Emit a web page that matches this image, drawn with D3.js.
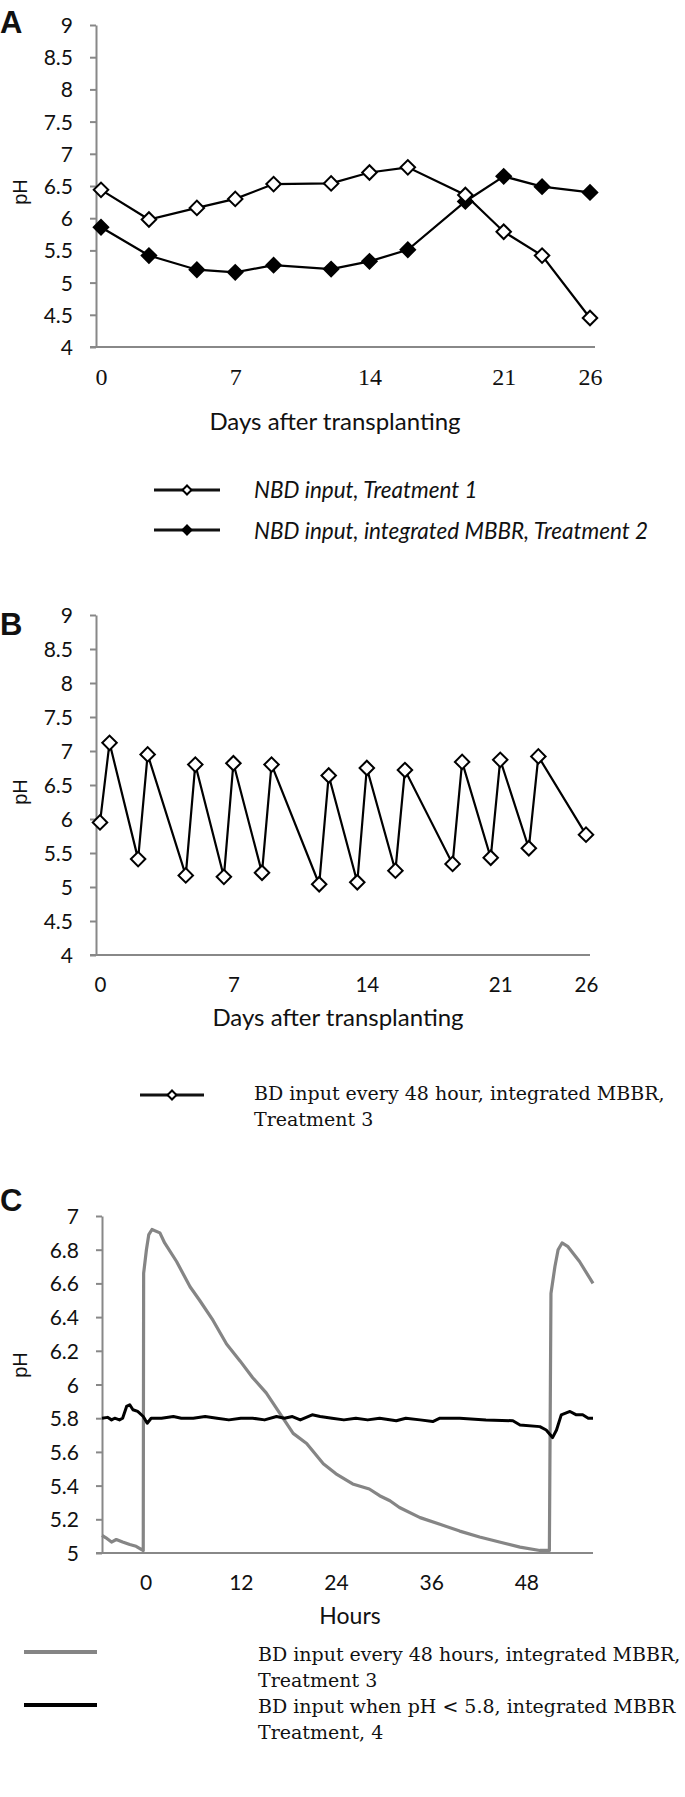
<!DOCTYPE html>
<html>
<head>
<meta charset="utf-8">
<script src="https://cdnjs.cloudflare.com/ajax/libs/d3/7.8.5/d3.min.js"></script>
<style>
	body { margin: 0; background: #fff; }
	svg { display: block; }
</style>
</head>
<body>
<div id="chart"></div>
<script>
// panel A: pH measured on days after transplanting
const daysA = [0, 2.5, 5, 7, 9, 12, 14, 16, 19, 21, 23, 25.5]
const phTreatment1 = [6.44, 5.98, 6.16, 6.3, 6.53, 6.54, 6.71, 6.79, 6.36, 5.79, 5.42, 4.45]
const phTreatment2 = [5.86, 5.42, 5.2, 5.16, 5.27, 5.21, 5.33, 5.51, 6.26, 6.65, 6.49, 6.4]

// panel B: treatment 3, BD input every 48 h
const daysB = [0, 0.5, 2, 2.5, 4.5, 5, 6.5, 7, 8.5, 9, 11.5, 12, 13.5, 14, 15.5, 16, 18.5, 19, 20.5, 21, 22.5, 23, 25.5]
const phTreatment3 = [5.95, 7.12, 5.41, 6.95, 5.17, 6.8, 5.15, 6.82, 5.21, 6.8, 5.04, 6.64, 5.07, 6.75, 5.24, 6.72, 5.34, 6.84, 5.43, 6.87, 5.57, 6.92, 5.77]

// shared tick labels for the day axes (last tick sits on the last sample)
const dayTicks = [0, 7, 14, 21, 25.5]
const dayTickLabels = ['0', '7', '14', '21', '26']
const phTicksAB = [4, 4.5, 5, 5.5, 6, 6.5, 7, 7.5, 8, 8.5, 9]

// panel C: continuous logging in hours
const hoursT3 = [-5.5, -5.0, -4.3, -3.7, -2.9, -2.0, -1.2, -0.5, -0.3, -0.25, 0.1, 0.4, 0.8, 1.8, 2.4, 3.9, 5.6, 6.8, 8.5, 10.2, 11.9, 13.5, 15.2, 16.9, 18.6, 20.3, 22.4, 24.0, 26.1, 28.2, 29.5, 30.8, 32.0, 34.6, 37.1, 39.6, 42.1, 44.6, 47.2, 49.7, 50.9, 51.1, 51.6, 52.0, 52.5, 53.2, 54.7, 56.4]
const phT3 = [5.105, 5.09, 5.065, 5.08, 5.065, 5.05, 5.04, 5.02, 5.015, 6.66, 6.8, 6.89, 6.92, 6.9, 6.84, 6.73, 6.58, 6.5, 6.38, 6.24, 6.14, 6.04, 5.95, 5.83, 5.71, 5.65, 5.53, 5.47, 5.41, 5.38, 5.34, 5.31, 5.27, 5.21, 5.17, 5.13, 5.095, 5.065, 5.035, 5.015, 5.015, 6.54, 6.7, 6.8, 6.84, 6.82, 6.73, 6.6]
const hoursT4 = [-5.5, -4.8, -4.3, -3.9, -3.3, -2.9, -2.4, -2.0, -1.6, -1.0, -0.3, 0.2, 0.7, 2.0, 3.5, 4.5, 6.0, 7.5, 9.0, 10.5, 12.0, 13.5, 15.0, 16.5, 17.5, 18.5, 19.5, 21.0, 22.0, 23.5, 25.0, 26.5, 28.0, 29.5, 31.6, 32.8, 34.6, 36.2, 37.1, 39.6, 42.9, 46.3, 47.2, 49.7, 50.5, 51.3, 51.8, 52.4, 53.5, 54.3, 55.1, 55.8, 56.4]
const phT4 = [5.8, 5.805, 5.79, 5.8, 5.79, 5.8, 5.87, 5.88, 5.85, 5.84, 5.81, 5.77, 5.8, 5.8, 5.81, 5.8, 5.8, 5.81, 5.8, 5.79, 5.8, 5.8, 5.79, 5.81, 5.8, 5.81, 5.79, 5.82, 5.81, 5.8, 5.79, 5.8, 5.79, 5.8, 5.785, 5.8, 5.79, 5.78, 5.8, 5.8, 5.79, 5.785, 5.76, 5.75, 5.73, 5.685, 5.73, 5.82, 5.84, 5.82, 5.82, 5.8, 5.8]
const hourTicks = [0, 12, 24, 36, 48]
const phTicksC = [5, 5.2, 5.4, 5.6, 5.8, 6, 6.2, 6.4, 6.6, 6.8, 7]

const axisGrey = '#888888'
const seriesGrey = '#858585'
const sans = 'Lato, "Open Sans", sans-serif'
const serif = '"Liberation Serif", serif'
const legendSerif = '"DejaVu Serif", serif'
const arial = '"Liberation Sans", Arial, sans-serif'

const svg = d3
	.select('#chart')
	.append('svg')
	.attr('width', 685)
	.attr('height', 1797)

svg.append('rect').attr('width', 685).attr('height', 1797).attr('fill', '#fff')

const diamond = size => d3.symbol(d3.symbolSquare, size)

function drawYAxis(y, ticks, left) {
	const g = svg
		.append('g')
		.attr('transform', `translate(${left},0)`)
		.call(
			d3
				.axisLeft(y)
				.tickValues(ticks)
				.tickSize(6)
				.tickSizeOuter(0)
				.tickPadding(17)
				.tickFormat(d3.format(''))
		)
	g.attr('font-family', sans).attr('font-size', 21)
	g.selectAll('path, line').attr('stroke', axisGrey).attr('stroke-width', 2)
	g.selectAll('text').attr('fill', '#111').attr('dy', '0.36em')
}

function drawXAxis(x, ticks, labels, bottom, left, right, font, size, pad) {
	svg.append('line')
		.attr('x1', left - 6)
		.attr('x2', right)
		.attr('y1', bottom)
		.attr('y2', bottom)
		.attr('stroke', axisGrey)
		.attr('stroke-width', 2)

	const g = svg
		.append('g')
		.attr('transform', `translate(0,${bottom})`)
		.call(
			d3
				.axisBottom(x)
				.tickValues(ticks)
				.tickSize(0)
				.tickPadding(pad)
				.tickFormat((d, i) => labels[i])
		)
	g.select('.domain').remove()
	g.attr('font-family', font).attr('font-size', size)
	g.selectAll('text').attr('fill', '#111')
}

function label(text, x, y, opts = {}) {
	return svg
		.append('text')
		.attr('x', x)
		.attr('y', y)
		.attr('font-family', opts.font || sans)
		.attr('font-size', opts.size || 24)
		.attr('font-weight', opts.weight || 'normal')
		.attr('font-style', opts.style || 'normal')
		.attr('text-anchor', opts.anchor || 'start')
		.attr('fill', '#111')
		.text(text)
}

function pHLabel(cy) {
	svg.append('text')
		.attr('transform', `translate(27,${cy}) rotate(-90)`)
		.attr('text-anchor', 'middle')
		.attr('font-family', arial)
		.attr('font-size', 20)
		.attr('fill', '#111')
		.text('pH')
}

function drawMarkers(points, x, y, fill) {
	svg.append('g')
		.selectAll('path')
		.data(points)
		.enter()
		.append('path')
		.attr('d', diamond(105)())
		.attr('transform', d => `translate(${x(d.day)},${y(d.ph)}) rotate(45)`)
		.attr('fill', fill)
		.attr('stroke', '#000')
		.attr('stroke-width', 2)
}

function legendSymbol(x1, x2, cy, fill) {
	svg.append('line')
		.attr('x1', x1)
		.attr('x2', x2)
		.attr('y1', cy)
		.attr('y2', cy)
		.attr('stroke', '#111')
		.attr('stroke-width', 3)
	svg.append('path')
		.attr('d', diamond(40)())
		.attr('transform', `translate(${(x1 + x2) / 2},${cy}) rotate(45)`)
		.attr('fill', fill)
		.attr('stroke', '#000')
		.attr('stroke-width', 2)
}

// ---------- panel A ----------
const xA = d3.scaleLinear().domain([0, 25.5]).range([101, 590])
const yA = d3.scaleLinear().domain([4, 9]).range([347, 25])

const seriesA1 = daysA.map((d, i) => ({ day: d, ph: phTreatment1[i] }))
const seriesA2 = daysA.map((d, i) => ({ day: d, ph: phTreatment2[i] }))

drawXAxis(xA, dayTicks, dayTickLabels, 347, 96, 595, serif, 24, 21)
drawYAxis(yA, phTicksAB, 96)

const lineA = d3.line().x(d => xA(d.day)).y(d => yA(d.ph))

;[seriesA1, seriesA2].forEach(s => {
	svg.append('path')
		.attr('d', lineA(s))
		.attr('fill', 'none')
		.attr('stroke', '#000')
		.attr('stroke-width', 2.2)
})
drawMarkers(seriesA2, xA, yA, '#000')
drawMarkers(seriesA1, xA, yA, '#fff')

label('A', 0, 33, { font: arial, size: 31, weight: 'bold' })
pHLabel(192)
label('Days after transplanting', 335, 430, { anchor: 'middle' })

legendSymbol(154, 220, 490, '#fff')
legendSymbol(154, 220, 530, '#000')
label('NBD input, Treatment 1', 254, 498, { style: 'italic', size: 22.5 })
label('NBD input, integrated MBBR, Treatment 2', 254, 539, { style: 'italic', size: 22.5 })

// ---------- panel B ----------
const xB = d3.scaleLinear().domain([0, 25.5]).range([100, 586])
const yB = d3.scaleLinear().domain([4, 9]).range([955, 615])

const seriesB = daysB.map((d, i) => ({ day: d, ph: phTreatment3[i] }))

drawXAxis(xB, dayTicks, dayTickLabels, 955, 96, 590, sans, 20.5, 22)
drawYAxis(yB, phTicksAB, 96)

const lineB = d3.line().x(d => xB(d.day)).y(d => yB(d.ph))
svg.append('path')
	.attr('d', lineB(seriesB))
	.attr('fill', 'none')
	.attr('stroke', '#000')
	.attr('stroke-width', 2.2)
drawMarkers(seriesB, xB, yB, '#fff')

label('B', 0, 635, { font: arial, size: 31, weight: 'bold' })
pHLabel(792)
label('Days after transplanting', 338, 1026, { anchor: 'middle' })

legendSymbol(140, 204, 1095, '#fff')
label('BD input every 48 hour, integrated MBBR,', 254, 1100, { font: legendSerif, size: 19 })
label('Treatment 3', 254, 1126, { font: legendSerif, size: 19 })

// ---------- panel C ----------
const xC = d3.scaleLinear().domain([-5.5, 56.4]).range([102, 593])
const yC = d3.scaleLinear().domain([5, 7]).range([1553, 1216])

drawXAxis(xC, hourTicks, hourTicks.map(String), 1553, 102, 593, sans, 21, 22)
drawYAxis(yC, phTicksC, 102)

const lineC = d3.line().x(d => xC(d.h)).y(d => yC(d.ph))
const seriesT3 = hoursT3.map((h, i) => ({ h: h, ph: phT3[i] }))
const seriesT4 = hoursT4.map((h, i) => ({ h: h, ph: phT4[i] }))

svg.append('path')
	.attr('d', lineC(seriesT3))
	.attr('fill', 'none')
	.attr('stroke', seriesGrey)
	.attr('stroke-width', 3.2)
	.attr('stroke-linejoin', 'round')
svg.append('path')
	.attr('d', lineC(seriesT4))
	.attr('fill', 'none')
	.attr('stroke', '#000')
	.attr('stroke-width', 3)
	.attr('stroke-linejoin', 'round')

label('C', 0, 1211, { font: arial, size: 31, weight: 'bold' })
pHLabel(1365)
label('Hours', 350, 1624, { anchor: 'middle', size: 23 })

svg.append('line')
	.attr('x1', 24).attr('x2', 97)
	.attr('y1', 1652).attr('y2', 1652)
	.attr('stroke', seriesGrey).attr('stroke-width', 4)
svg.append('line')
	.attr('x1', 24).attr('x2', 97)
	.attr('y1', 1705).attr('y2', 1705)
	.attr('stroke', '#000').attr('stroke-width', 4)

const legendC = [
	'BD input every 48 hours, integrated MBBR,',
	'Treatment 3',
	'BD input when pH < 5.8, integrated MBBR',
	'Treatment, 4'
]
legendC.forEach((t, i) => label(t, 258, 1661 + i * 26, { font: legendSerif, size: 19 }))
</script>
</body>
</html>
